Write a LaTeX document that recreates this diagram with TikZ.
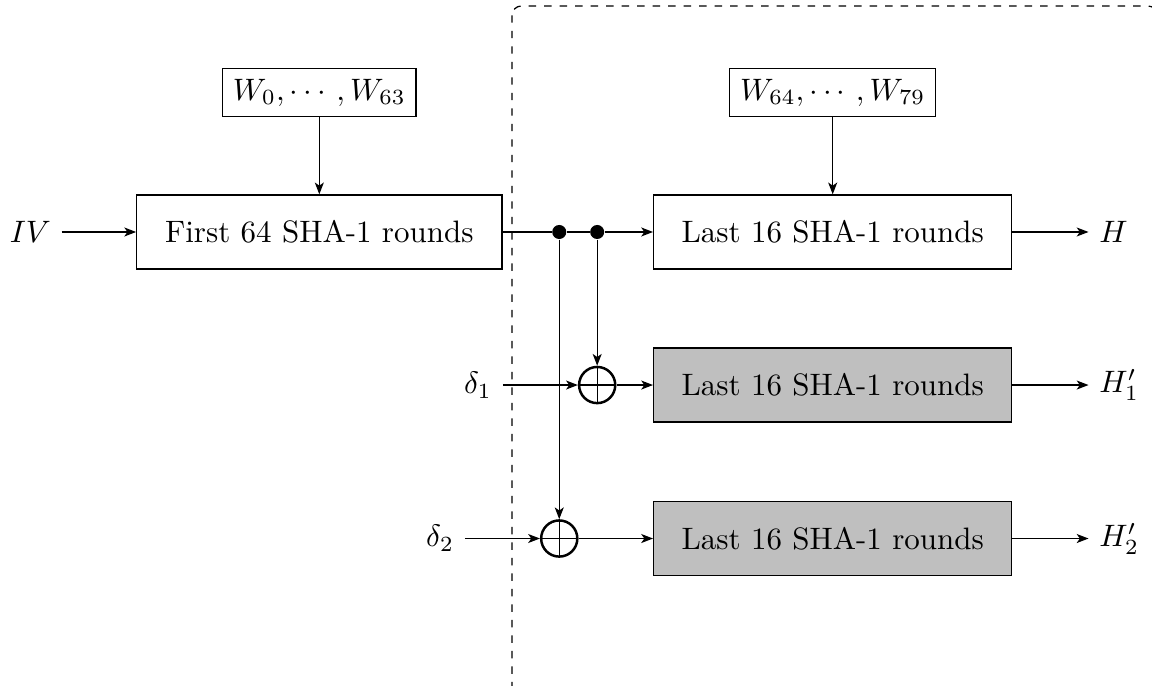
\documentclass[tikz,border=0pt]{standalone}
\usepackage{amsmath}
\usepackage{amssymb}
\usepackage{xcolor}
\usetikzlibrary{arrows.meta}

\tikzset{
  >={Stealth[length=3.8pt,width=2.9pt,inset=1pt]},
  roundbox/.style={draw,minimum width=4.06cm,minimum height=0.84cm},
  keybox/.style={draw},
  xorgate/.style={circle,draw,thick,minimum size=0.41cm,inner sep=0pt,
    path picture={\draw[thin] (path picture bounding box.north) -- (path picture bounding box.south)
      (path picture bounding box.west) -- (path picture bounding box.east);}},
  dot/.style={circle,fill,inner sep=1.6pt}
}

\begin{document}
\begin{tikzpicture}[scale=1]
            \useasboundingbox (0,0) rectangle (13.06,-7.77);
            % the part that is recomputed for every fault
            \draw[dash pattern=on 2.4pt off 2.6pt,rounded corners=3pt] (5.805,-0.068) rectangle (13.12,-8.3);

            \node (iv) at (0.70,-2.63) [anchor=east] {$IV$};
            \node (w0) at (3.62,-1.05) [keybox] {$W_0,\cdots,W_{63}$};
            \node (first) at (3.62,-2.63) [roundbox,minimum width=4.14cm] {First 64 SHA-1 rounds};

            \node (d1) at (6.34,-2.63) [dot] {};
            \node (d2) at (6.77,-2.63) [dot] {};

            \node (w64) at (9.44,-1.05) [keybox] {$W_{64},\cdots,W_{79}$};
            \node (last) at (9.44,-2.63) [roundbox] {Last 16 SHA-1 rounds};
            \node (lastA) at (9.44,-4.365) [roundbox,fill=lightgray] {Last 16 SHA-1 rounds};
            \node (lastB) at (9.44,-6.105) [roundbox,fill=lightgray] {Last 16 SHA-1 rounds};

            \node (x1) at (6.77,-4.365) [xorgate] {};
            \node (x2) at (6.34,-6.105) [xorgate] {};
            \node (delta1) at (5.70,-4.365) [anchor=east] {$\delta_1$};
            \node (delta2) at (5.27,-6.105) [anchor=east] {$\delta_2$};

            \node (h) at (12.34,-2.63) [anchor=west] {$H$};
            \node (h1) at (12.34,-4.365) [anchor=west] {$H'_1$};
            \node (h2) at (12.34,-6.105) [anchor=west] {$H'_2$};

            \draw[->] (iv) -- (first);
            \draw[->] (w0) -- (first);
            \draw[->] (w64) -- (last);
            \draw (first) -- (d1) (d1) -- (d2);
            \draw[->] (d2) -- (last);
            \draw[->] (d2) -- (x1);
            \draw[->] (d1) -- (x2);
            \draw[->] (delta1) -- (x1);
            \draw[->] (delta2) -- (x2);
            \draw[->] (x1) -- (lastA);
            \draw[->] (x2) -- (lastB);
            \draw[->] (last) -- (h);
            \draw[->] (lastA) -- (h1);
            \draw[->] (lastB) -- (h2);
        \end{tikzpicture}
\end{document}
